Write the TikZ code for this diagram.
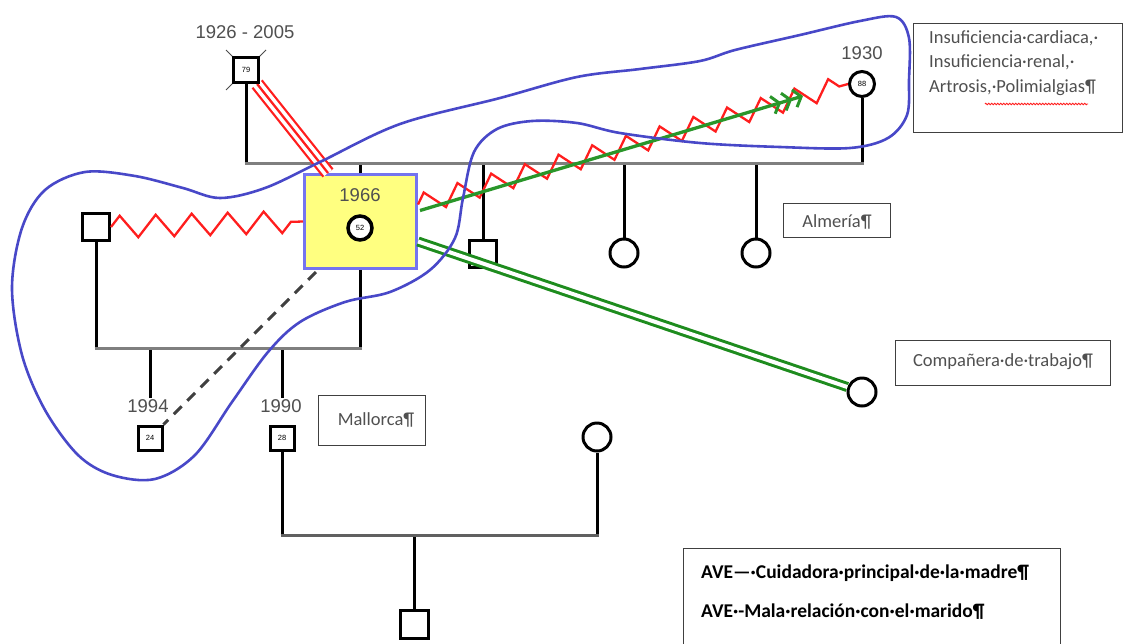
\documentclass[tikz,border=0pt]{standalone}
\usepackage{fontspec}
\setmainfont{Liberation Sans}
\newfontfamily\calfont{Carlito}
\usetikzlibrary{calc,decorations.pathmorphing,arrows.meta}
\definecolor{gline}{HTML}{7F7F7F}
\definecolor{gline2}{HTML}{606060}
\definecolor{blueline}{HTML}{4848C8}
\definecolor{redz}{HTML}{FF1E1E}
\definecolor{grn}{HTML}{1E8C1E}
\definecolor{grnl}{HTML}{2A962A}
\definecolor{boxyellow}{HTML}{FFFF80}
\definecolor{boxblue}{HTML}{7474F0}
\definecolor{txtgray}{HTML}{505050}
\definecolor{boxline}{HTML}{404040}
\begin{document}
\begin{tikzpicture}[x=1pt,y=-1pt,
  sq/.style={draw=black, line width=3pt, minimum size=#1, inner sep=0pt, fill=white, font=\fontsize{7.5}{8}\selectfont},
  sq/.default=24pt,
  ci/.style={circle, draw=black, line width=3pt, minimum size=#1, inner sep=0pt, fill=white, font=\fontsize{7.5}{8}\selectfont},
  ci/.default=26pt,
  yr/.style={text=txtgray, font=\fontsize{18.5}{20}\selectfont, inner sep=1pt},
  vline/.style={draw=black, line width=3pt},
  gbar/.style={draw=gline, line width=3pt},
  tbox/.style={draw=boxline, line width=1.3pt, fill=white, inner sep=0pt},
  btxt/.style={text=txtgray, font=\calfont\fontsize{18.5}{24.5}\selectfont, inner sep=0pt, align=left},
  zig/.style={draw=redz, line width=2.3pt, decorate, decoration={zigzag, segment length=36pt, amplitude=11pt}},
  blueloop/.style={draw=blueline, line width=2.6pt},
  dashline/.style={draw=black!75, line width=3pt, dash pattern=on 11pt off 8pt},
]
\useasboundingbox (0,0) rectangle (1123,643);
\fill[white] (0,0) rectangle (1123,643);

% ---------- symbols ----------
\node[sq=25pt] (gf) at (246,70) {79};
\node[yr] (gflab) at (245,32) {1926 - 2005};
\node[ci=25pt] (gm) at (862,84) {88};
\node[yr] (gmlab) at (862,53) {1930};

\node[draw=boxblue, line width=3pt, fill=boxyellow, minimum width=112pt, minimum height=94pt, inner sep=0pt] (mbox) at (360.5,221.5) {};
\node[yr] (molab) at (360,195) {1966};
\node[ci=24pt, line width=3.5pt] (mo) at (360,228) {52};

\node[sq=27pt] (bro) at (483,254) {};
\node[ci=28pt] (sis1) at (624,253) {};
\node[ci=28pt] (sis2) at (756,253) {};
\node[ci=28pt] (comp) at (862,392) {};
\node[sq=27pt] (hus) at (96,227) {};
\node[sq=24pt] (c94) at (150,438) {24};
\node[yr] (l94) at (148,406) {1994};
\node[sq=24pt] (c90) at (282,438) {28};
\node[yr] (l90) at (281,406) {1990};
\node[ci=28pt] (dil) at (597,437) {};
\node[sq=28pt] (gs) at (414,624) {};

% deceased cross on grandfather
\draw[black!70, line width=1pt] ($(gf.north west)+(-6,-6)$) -- ($(gf.south east)+(6,6)$);
\draw[black!70, line width=1pt] ($(gf.north east)+(6,-6)$) -- ($(gf.south west)+(-6,6)$);

% ---------- generation 1 ----------
\coordinate (mb) at (0,163);
\draw[vline] (gf.south) -- (gf.south |- mb);
\draw[vline] (gm.south) -- (gm.south |- mb);
\draw[vline] (mbox.north) -- (mbox.north |- mb);
\draw[vline] (bro.north) -- (bro.north |- mb);
\draw[vline] (sis1.north) -- (sis1.north |- mb);
\draw[vline] (sis2.north) -- (sis2.north |- mb);
\draw[gbar] ($(gf.south |- mb)+(-1.5,0)$) -- ($(gm.south |- mb)+(1.5,0)$);

% ---------- generation 2 family ----------
\coordinate (fb) at (0,348);
\draw[vline] (hus.south) -- (hus.south |- fb);
\draw[vline] (mbox.south) -- (mbox.south |- fb);
\draw[vline] (c94 |- fb) -- (l94.north -| c94);
\draw[vline] (c90 |- fb) -- (l90.north -| c90);
\draw[gbar] ($(hus.south |- fb)+(-1.5,0)$) -- ($(mbox.south |- fb)+(1.5,0)$);

% ---------- generation 3 family ----------
\coordinate (fb2) at (0,535);
\draw[vline] (c90.south) -- (c90.south |- fb2);
\draw[vline] (dil.south) -- (dil.south |- fb2);
\draw[vline] (gs.north |- fb2) -- (gs.north);
\draw[draw=gline2, line width=3pt] ($(c90.south |- fb2)+(-1.5,0)$) -- ($(dil.south |- fb2)+(1.5,0)$);

% ---------- relationship lines ----------
\coordinate (tripend) at ($(mbox.north west)+(25,0)$);
\draw[redz, line width=14pt] (gf) -- (tripend);
\draw[white, line width=9.5pt, shorten <=-1pt] (gf) -- (tripend);
\draw[redz, line width=2.3pt] (gf) -- (tripend);
\node[sq=25pt] at (gf) {79};

\draw[zig] (hus.east) -- (mbox.west);
\draw[zig, decoration={segment length=35pt, amplitude=10pt}] ($(mbox.east)+(0,-17)$) -- (gm.west);
\coordinate (arrend) at (803,96);
\draw[grnl, line width=3.3pt, -{Straight Barb[length=7pt,width=18pt,line width=3pt,sep=1pt] Straight Barb[length=7pt,width=18pt,line width=3pt,sep=1pt] Straight Barb[length=7pt,width=18pt,line width=3pt]}] ($(mbox.east)+(2,-11)$) -- (arrend);

\draw[grn, line width=3pt, double=white, double distance=4pt] ($(mbox.east)+(0,20)$) -- (comp);

\draw[dashline] ($(mbox.south west)+(13,2)$) -- (c94.north east);

% ---------- text boxes ----------
\node[tbox, anchor=north west, minimum width=209pt, minimum height=109pt] (info) at (913,23) {};
\node[btxt, anchor=north west] (infotxt) at ($(info.north west)+(16,7)$) {Insuficiencia·cardiaca,·\\Insuficiencia·renal,·\\Artrosis,·Polimialgias¶};
\draw[redz, line width=0.8pt, decorate, decoration={zigzag, segment length=3pt, amplitude=0.8pt}] (985,104) -- (1088,104);

\node[tbox, anchor=north west, minimum width=107pt, minimum height=34pt] (alm) at (783,203) {};
\node[btxt] (almtxt) at (837,222) {Almería¶};
\node[tbox, anchor=north west, minimum width=215pt, minimum height=45pt] (cbox) at (895,340) {};
\node[btxt] (ctxt) at (1003,362) {Compañera·de·trabajo¶};
\node[tbox, anchor=north west, minimum width=107pt, minimum height=50pt] (mal) at (318,395) {};
\node[btxt] (maltxt) at (376,420) {Mallorca¶};
\node[tbox, anchor=north west, minimum width=377pt, minimum height=120pt] (ave) at (683,548) {};
\node[btxt, anchor=west, text=black, font=\calfont\bfseries\fontsize{19.5}{22}\selectfont] (ave1) at (701,573) {AVE—·Cuidadora·principal·de·la·madre¶};
\node[btxt, anchor=west, text=black, font=\calfont\bfseries\fontsize{19.5}{22}\selectfont] (ave2) at (701,612) {AVE·-Mala·relación·con·el·marido¶};

% ---------- blue outline ----------
\draw[blueloop] plot[smooth cycle, tension=0.55] coordinates {
 (12,288) (22,228) (45,190) (85,172) (135,176) (183,188) (220,198) (265,188)
 (320,162) (400,124) (500,98) (577,77) (640,69) (700,61) (735,50) (800,35)
 (860,21) (896,17) (909,38) (909,80) (907,115) (888,138) (850,148) (780,147)
 (700,143) (620,133) (577,123) (532,121) (497,129) (474,152) (463,198)
 (455,238) (430,270) (390,292) (345,302) (300,322) (268,352) (232,402)
 (195,455) (155,479) (112,475) (78,455) (45,410) (22,355)};
\end{tikzpicture}
\end{document}
